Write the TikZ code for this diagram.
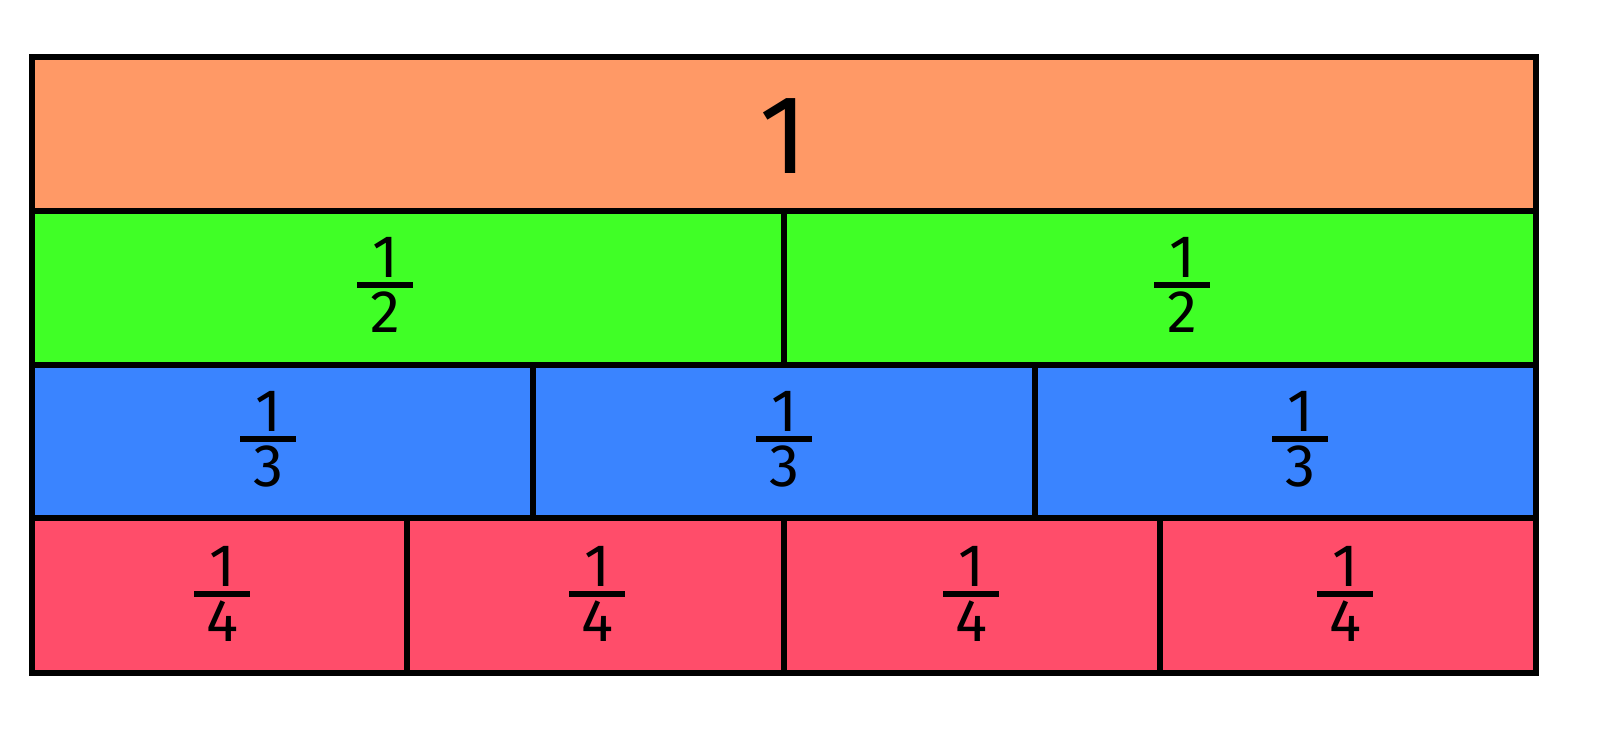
\documentclass[tikz,border=0pt]{standalone}
\usepackage{fontspec}
\setmainfont{Fira Sans}
\definecolor{cor}{HTML}{FF9966}
\definecolor{cgr}{HTML}{40FF26}
\definecolor{cbl}{HTML}{3A84FF}
\definecolor{crd}{HTML}{FF4D6A}
\newcommand{\myfr}[4]{%
  \node[digit] (#4n) at (#1,#2-28) {1};
  \draw[line width=2.6] (#1-28,#2) -- (#1+28,#2);
  \node[digit] (#4d) at (#1,#2+27) {#3};}
\begin{document}
\begin{tikzpicture}[x=0.5pt,y=-0.5pt,
  digit/.style={inner sep=0,font=\fontsize{30}{30}\selectfont}]
\useasboundingbox (0,0) rectangle (1600,750);
\fill[cor] (32,57) rectangle (1536,211);
\fill[cgr] (32,211) rectangle (1536,365);
\fill[cbl] (32,365) rectangle (1536,518);
\fill[crd] (32,518) rectangle (1536,673);
\draw[line width=2.9pt] (32,211) -- (1536,211) (32,365) -- (1536,365) (32,518) -- (1536,518);
\draw[line width=2.6pt] (784,211) -- (784,365) (533,365) -- (533,518) (1035,365) -- (1035,518)
  (407,518) -- (407,673) (784,518) -- (784,673) (1160,518) -- (1160,673);
\draw[line width=3.2pt] (32,57) rectangle (1536,673);
\node[inner sep=0,font=\fontsize{56}{56}\selectfont] (one) at (784,136) {1};
\myfr{385}{285}{2}{h1}\myfr{1182}{285}{2}{h2}
\myfr{268}{439}{3}{t1}\myfr{784}{439}{3}{t2}\myfr{1300}{439}{3}{t3}
\myfr{222}{594}{4}{q1}\myfr{597}{594}{4}{q2}\myfr{971}{594}{4}{q3}\myfr{1345}{594}{4}{q4}
\end{tikzpicture}
\end{document}
